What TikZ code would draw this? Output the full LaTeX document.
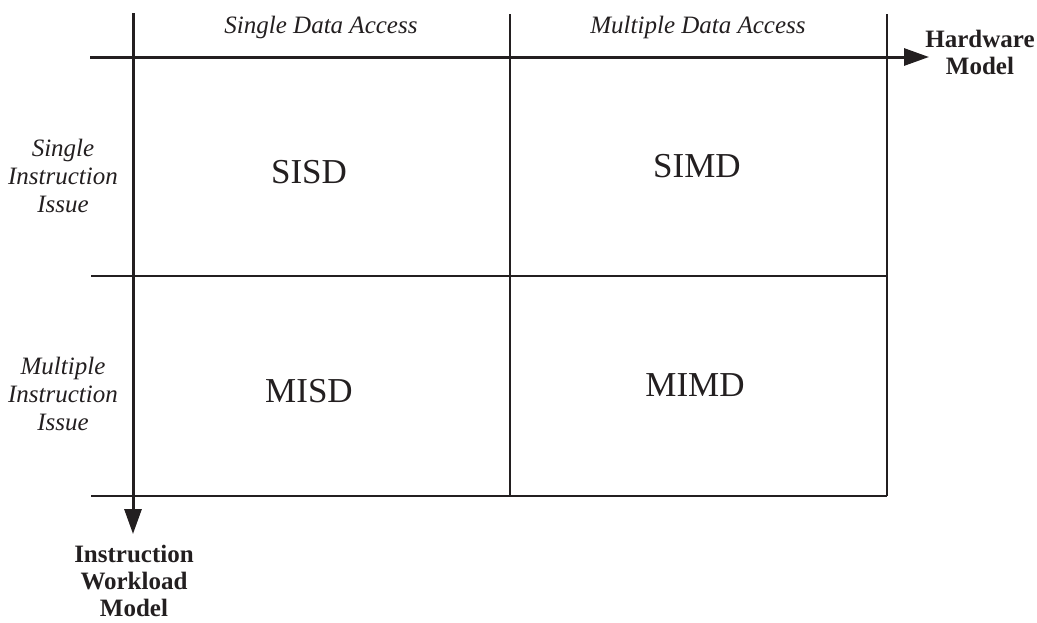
\documentclass[tikz,border=0pt]{standalone}
\usepackage{fontspec}
\setmainfont{Liberation Serif}
\usetikzlibrary{arrows.meta}
\definecolor{ink}{RGB}{35,31,32}
\tikzset{
  axis/.style={draw=ink, line width=3pt, -{Triangle[length=25pt,width=17pt]}},
  grid line/.style={draw=ink, line width=1.2pt},
  head/.style={font=\fontsize{25}{28}\selectfont\itshape, text=ink, align=center, inner sep=0pt},
  side/.style={font=\fontsize{25}{28}\selectfont\itshape, text=ink, align=center, inner sep=0pt},
  axis label/.style={font=\fontsize{25}{27}\selectfont\bfseries, text=ink, align=center, inner sep=0pt},
  cell/.style={font=\fontsize{35}{40}\selectfont, text=ink, inner sep=0pt},
}
\begin{document}
\begin{tikzpicture}[x=1pt, y=-1pt]
  \useasboundingbox (0,0) rectangle (1037,622);

  % grid corners
  \coordinate (tl) at (91,14);
  \coordinate (tm) at (510,14);
  \coordinate (tr) at (887,14);
  \coordinate (ml) at (91,276);
  \coordinate (mr) at (887,276);
  \coordinate (bl) at (91,496);
  \coordinate (bm) at (510,496);
  \coordinate (br) at (887,496);

  % thin grid lines
  \draw[grid line] (tm) -- (bm);
  \draw[grid line] (tr) -- (br);
  \draw[grid line] (ml) -- (mr);
  \draw[grid line] (bl) -- (br);

  % axes
  \coordinate (hstart) at (90,57);
  \coordinate (hend) at (929,57);
  \coordinate (vstart) at (133,13);
  \coordinate (vend) at (133,534);
  \draw[axis] (hstart) -- (hend);
  \draw[axis] (vstart) -- (vend);

  % column headings
  \node[head] (sda) at (321,27) {Single Data Access};
  \node[head] (mda) at (698,27) {Multiple Data Access};

  % row headings
  \node[side] (sii) at (63,176) {Single\\Instruction\\Issue};
  \node[side] (mii) at (63,394) {Multiple\\Instruction\\Issue};

  % axis names
  \node[axis label] (hw) at (980,52) {Hardware\\Model};
  \node[axis label] (iwm) at (134,581) {Instruction\\Workload\\Model};

  % cells
  \node[cell] (sisd) at (309,172) {SISD};
  \node[cell] (simd) at (697,166) {SIMD};
  \node[cell] (misd) at (309,391) {MISD};
  \node[cell] (mimd) at (695,385) {MIMD};
\end{tikzpicture}
\end{document}
